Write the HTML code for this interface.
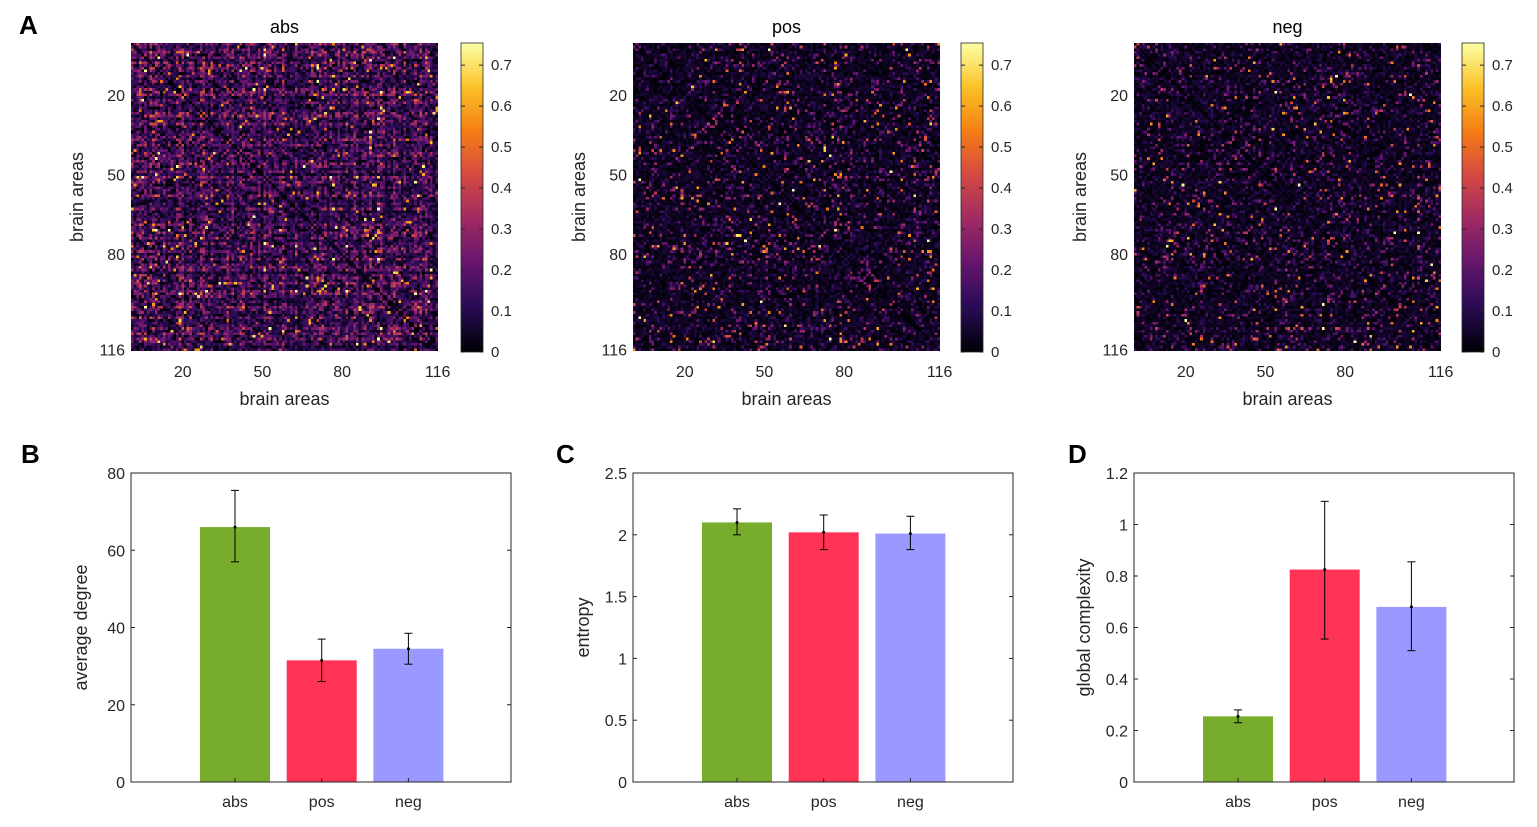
<!DOCTYPE html>
<html><head><meta charset="utf-8">
<style>
body{margin:0;background:#fff;width:1537px;height:827px;overflow:hidden;font-family:"Liberation Sans",Arial,sans-serif;}
#root{position:relative;width:1537px;height:827px;}
canvas{position:absolute;image-rendering:pixelated;}
svg{position:absolute;left:0;top:0;}
</style></head>
<body>
<div id="root">
<canvas id="hm0" width="116" height="116" style="left:131px;top:43px;width:307px;height:308px"></canvas>
<canvas id="hm1" width="116" height="116" style="left:633px;top:43px;width:307px;height:308px"></canvas>
<canvas id="hm2" width="116" height="116" style="left:1134px;top:43px;width:307px;height:308px"></canvas>
<canvas id="cb0" width="1" height="256" style="left:461px;top:43px;width:22px;height:309px"></canvas>
<canvas id="cb1" width="1" height="256" style="left:961px;top:43px;width:22px;height:309px"></canvas>
<canvas id="cb2" width="1" height="256" style="left:1462px;top:43px;width:22px;height:309px"></canvas>
<svg id="svg" width="1537" height="827"></svg>
</div>
<script>
// ---- data ----
const categories = ["abs","pos","neg"];
const degreeValues = [66, 31.5, 34.5];
const degreeLow = [57, 26, 30.5];
const degreeHigh = [75.5, 37, 38.5];
const entropyValues = [2.1, 2.02, 2.01];
const entropyLow = [2.0, 1.88, 1.88];
const entropyHigh = [2.21, 2.16, 2.15];
const complexityValues = [0.255, 0.825, 0.68];
const complexityLow = [0.23, 0.555, 0.51];
const complexityHigh = [0.28, 1.09, 0.855];
const barColors = ["#77ac2c","#ff3355","#9999ff"];
const heatTitles = ["abs","pos","neg"];
const heatTicks = [20,50,80,116];
const cbTicks = [0,0.1,0.2,0.3,0.4,0.5,0.6,0.7];
const degreeTicks = [0,20,40,60,80];
const entropyTicks = [0,0.5,1,1.5,2,2.5];
const complexityTicks = [0,0.2,0.4,0.6,0.8,1,1.2];
const heatMeans = [0.16, 0.09, 0.09];

// inferno colormap
const inf=[[0,0,4],[40,11,84],[101,21,110],[159,42,99],[212,72,66],[245,125,21],[250,193,39],[252,255,164]];
function cmap(t){t=Math.max(0,Math.min(1,t));const p=t*(inf.length-1);const i=Math.min(Math.floor(p),inf.length-2);const f=p-i;
return inf[i].map((c,k)=>Math.round(c+(inf[i+1][k]-c)*f));}
const CMAX=0.754;
// heatmap texture (deterministic noise matrix; values not readable from image)
let seed=12345;function rnd(){seed=(seed*1103515245+12345)%2147483648;return seed/2147483648;}
const N=116;
for(let h=0;h<3;h++){
  const M=[];for(let i=0;i<N;i++){M.push(new Array(N).fill(0));}
  const rowW=[];for(let i=0;i<N;i++)rowW.push(0.6+rnd()*0.9);
  for(let i=0;i<N;i++)for(let j=0;j<=i;j++){
    let v;
    if(h===0){v=rnd()*heatMeans[0]*1.6*rowW[i]*rowW[j]; if(rnd()<0.03)v+=0.25+rnd()*0.3;}
    else{v=rnd()<0.5?rnd()*0.07:-Math.log(1-rnd()*0.999)*heatMeans[h]*rowW[i]; if(rnd()<0.015)v+=0.3+rnd()*0.3;}
    if(i===j)v=0;
    M[i][j]=v;M[j][i]=v;
  }
  const cv=document.getElementById('hm'+h);const ctx=cv.getContext('2d');
  const img=ctx.createImageData(N,N);
  for(let i=0;i<N;i++)for(let j=0;j<N;j++){const c=cmap(M[i][j]/CMAX);const o=(i*N+j)*4;img.data[o]=c[0];img.data[o+1]=c[1];img.data[o+2]=c[2];img.data[o+3]=255;}
  ctx.putImageData(img,0,0);
  const cb=document.getElementById('cb'+h).getContext('2d');
  for(let k=0;k<256;k++){const c=cmap(1-k/255);cb.fillStyle=`rgb(${c})`;cb.fillRect(0,k,1,1);}
}

const svg=document.getElementById('svg');const NS="http://www.w3.org/2000/svg";
function el(tag,attrs,txt){const e=document.createElementNS(NS,tag);for(const k in attrs)e.setAttribute(k,attrs[k]);if(txt!==undefined)e.textContent=txt;svg.appendChild(e);return e;}
const tc="#262626";

const hx=[131,633,1134], cbx=[461,961,1462];
for(let h=0;h<3;h++){
  const x0=hx[h],y0=43,W=307,H=308;
  const cell=H/N;
  const t=el('text',{x:x0+W/2,y:33,'text-anchor':'middle','font-size':18,fill:'#000'},heatTitles[h]);
  
  heatTicks.forEach(v=>{
    const py=y0+(v-0.5)*cell, px=x0+(v-0.5)*cell;
    const a=el('text',{x:x0-6,y:py+6,'text-anchor':'end','font-size':16,fill:tc},v);
    
    const b=el('text',{x:px,y:y0+H+26,'text-anchor':'middle','font-size':16,fill:tc},v);
    
  });
  const xl=el('text',{x:x0+W/2,y:405,'text-anchor':'middle','font-size':18,fill:tc},'brain areas');
  
  const yl=el('text',{x:0,y:0,'text-anchor':'middle','font-size':18,fill:tc,transform:`translate(${x0-48},${y0+H/2}) rotate(-90)`},'brain areas');
  
  const cx=cbx[h];
  el('rect',{x:cx,y:43,width:22,height:309,fill:'none',stroke:'#262626','stroke-width':0.8});
  cbTicks.forEach(v=>{const py=352-v/CMAX*309;
    el('line',{x1:cx+22,x2:cx+18,y1:py,y2:py,stroke:'#262626'});el('line',{x1:cx,x2:cx+4,y1:py,y2:py,stroke:'#262626'});
    const l=el('text',{x:cx+30,y:py+5,'font-size':15,fill:tc},v);
    
  });
}

function barChart(x0,name,vals,lo,hi,ymax,ticks,ylabel,letter,lx){
  const y0=473,W=380,H=309;
  const sy=v=>y0+H-v/ymax*H;
  const sp=86.7,c1=x0+104;
  const sx=i=>c1+i*sp;
  el('rect',{x:x0,y:y0,width:W,height:H,fill:'#fff',stroke:'#262626','stroke-width':1});
  ticks.forEach(v=>{const py=sy(v);
    el('line',{x1:x0,x2:x0+4,y1:py,y2:py,stroke:'#262626'});el('line',{x1:x0+W,x2:x0+W-4,y1:py,y2:py,stroke:'#262626'});
    const l=el('text',{x:x0-6,y:py+6,'text-anchor':'end','font-size':16,fill:tc},v);
    
  });
  vals.forEach((v,i)=>{
    const b=el('rect',{x:sx(i)-35,y:sy(v),width:70,height:sy(0)-sy(v),fill:barColors[i]});
    
    el('line',{x1:sx(i),x2:sx(i),y1:sy(lo[i]),y2:sy(hi[i]),stroke:'#000','stroke-width':1});
    el('line',{x1:sx(i)-4,x2:sx(i)+4,y1:sy(lo[i]),y2:sy(lo[i]),stroke:'#000'});
    el('line',{x1:sx(i)-4,x2:sx(i)+4,y1:sy(hi[i]),y2:sy(hi[i]),stroke:'#000'});
    el('circle',{cx:sx(i),cy:sy(v),r:1.5,fill:'#000'});
    el('line',{x1:sx(i),x2:sx(i),y1:y0+H,y2:y0+H-4,stroke:'#262626'});
    const l=el('text',{x:sx(i),y:y0+H+25,'text-anchor':'middle','font-size':16,fill:tc},categories[i]);
    
  });
  el('rect',{x:x0,y:y0,width:W,height:H,fill:'none',stroke:'#262626','stroke-width':1});
  const yl=el('text',{x:0,y:0,'text-anchor':'middle','font-size':18,fill:tc,transform:`translate(${x0-44},${y0+H/2}) rotate(-90)`},ylabel);
  
  const L=el('text',{x:lx,y:463,'font-size':26,'font-weight':'bold',fill:'#000'},letter);
  
}
barChart(131,'degree',degreeValues,degreeLow,degreeHigh,80,degreeTicks,'average degree','B',21);
barChart(633,'entropy',entropyValues,entropyLow,entropyHigh,2.5,entropyTicks,'entropy','C',556);
barChart(1134,'complexity',complexityValues,complexityLow,complexityHigh,1.2,complexityTicks,'global complexity','D',1068);
const A=el('text',{x:19,y:34,'font-size':26,'font-weight':'bold',fill:'#000'},'A');

</script>
</body></html>
